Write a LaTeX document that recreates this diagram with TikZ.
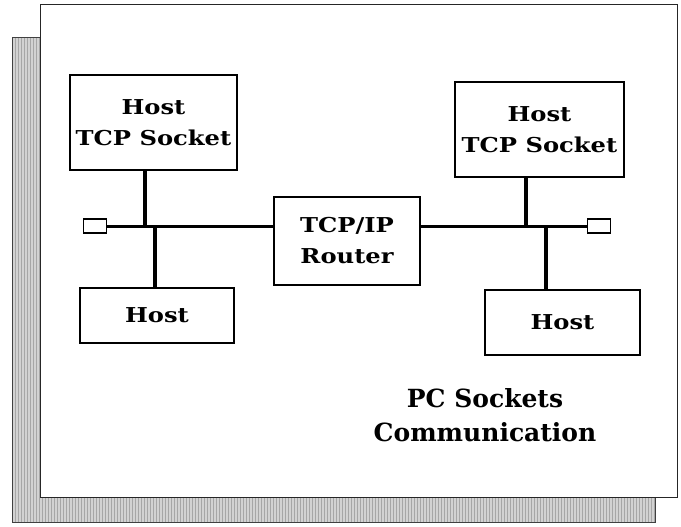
\documentclass[tikz,border=0pt]{standalone}
\usepackage{fontspec}
\setmainfont{DejaVu Serif}
\newfontfamily\widefont{DejaVu Serif}[FakeStretch=1.18]
\usetikzlibrary{patterns}

\tikzset{
    hostbox/.style={draw, line width=1.5pt, fill=white, align=center,
        inner sep=0pt, font=\widefont\bfseries\fontsize{20.5}{31}\selectfont},
    endcap/.style={draw, line width=1.2pt, fill=white, inner sep=0pt,
        minimum width=23pt, minimum height=14pt},
    bus/.style={line width=3pt},
    drop/.style={line width=3.5pt}
}

\begin{document}
\begin{tikzpicture}[x=1pt,y=-1pt]
    \useasboundingbox (0,0) rectangle (681,527);

    % shadow behind the panel
    \fill[gray!35] (12,38) rectangle (655,522);
    \fill[pattern=vertical lines, pattern color=gray!70] (12,38) rectangle (655,522);
    \draw[line width=1pt, gray!50!black] (12,38) rectangle (655,522);

    % panel
    \draw[fill=white, draw=gray!30!black, line width=1pt] (40,5) rectangle (677,497);

    \node[hostbox, minimum width=167pt, minimum height=95pt] (hostTL) at (153.5,122.5) {Host\\TCP Socket};
    \node[hostbox, minimum width=169pt, minimum height=95pt] (hostTR) at (539.5,129.5) {Host\\TCP Socket};
    \node[hostbox, minimum width=146pt, minimum height=88pt] (router) at (347,241) {TCP/IP\\Router};
    \node[hostbox, minimum width=154pt, minimum height=55pt] (hostBL) at (157,315.5) {Host};
    \node[hostbox, minimum width=155pt, minimum height=65pt] (hostBR) at (562.5,322.5) {Host};

    \node[endcap] (endL) at (95,226) {};
    \node[endcap] (endR) at (599,226) {};

    \coordinate (jA) at (145,226);
    \coordinate (jB) at (155,226);
    \coordinate (jC) at (526,226);
    \coordinate (jD) at (546,226);

    \draw[bus] (endL.east) -- (router.west |- jA);
    \draw[bus] (router.east |- jC) -- (endR.west);

    \draw[drop] (hostTL.south -| jA) -- (jA);
    \draw[drop] (jB) -- (hostBL.north -| jB);
    \draw[drop] (hostTR.south -| jC) -- (jC);
    \draw[drop] (jD) -- (hostBR.north -| jD);

    \node[align=center, font=\bfseries\fontsize{25}{34}\selectfont] (title) at (485,415) {PC Sockets\\Communication};

\end{tikzpicture}
\end{document}
